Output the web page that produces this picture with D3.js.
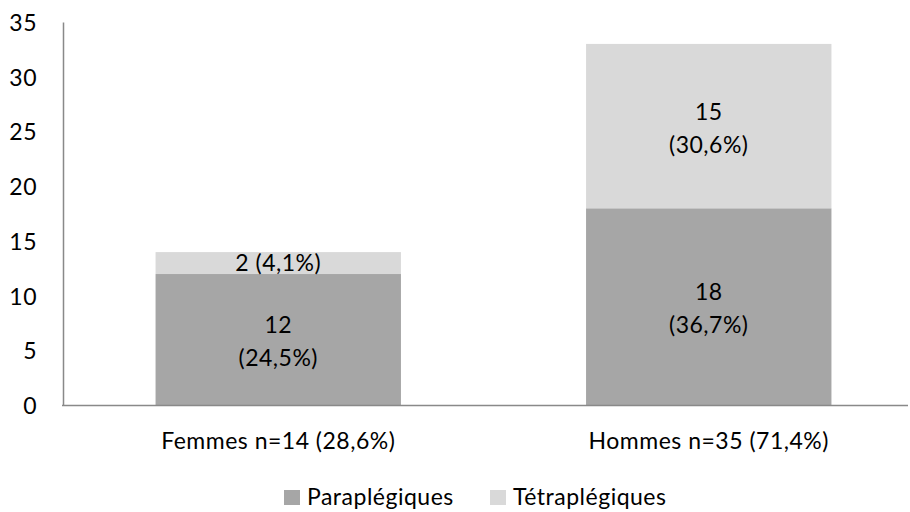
<!DOCTYPE html>
<html><head><meta charset="utf-8">
<script src="https://cdn.jsdelivr.net/npm/d3@7"></script>
<style>body{margin:0;background:#fff}svg{display:block}text{font-family:Lato,"Open Sans",sans-serif;fill:#000;letter-spacing:0.5px}</style>
</head><body><svg id="c" width="910" height="512"></svg>
<script>
const categories = ["Femmes n=14 (28,6%)", "Hommes n=35 (71,4%)"];
const seriesNames = ["Paraplégiques", "Tétraplégiques"];
const paraplegiques = [12, 18];
const tetraplegiques = [2, 15];
const paraLabels = [["12", "(24,5%)"], ["18", "(36,7%)"]];
const tetraLabels = [["2 (4,1%)"], ["15", "(30,6%)"]];
const yTicks = [0, 5, 10, 15, 20, 25, 30, 35];
const colors = ["#a6a6a6", "#d9d9d9"];

const FS = 23;
const svg = d3.select("#c");
const x = d3.scaleBand().domain(categories).range([63, 924]).paddingInner(0.43).paddingOuter(0.215);
const y = d3.scaleLinear().domain([0, 35]).range([405.5, 22]);

const rows = categories.map((c, i) => ({cat: c, Paraplégiques: paraplegiques[i], Tétraplégiques: tetraplegiques[i]}));
const stack = d3.stack().keys(seriesNames)(rows);
const labels = [paraLabels, tetraLabels];

stack.forEach((s, si) => {
  svg.append("g").selectAll("rect").data(s).join("rect")
    .attr("x", d => x(d.data.cat)).attr("width", x.bandwidth())
    .attr("y", d => y(d[1])).attr("height", d => y(d[0]) - y(d[1]))
    .attr("fill", colors[si]);
  s.forEach((d, i) => {
    const lines = labels[si][i];
    const mid = (y(d[0]) + y(d[1])) / 2 + (lines.length > 1 ? 2 : 0);
    const lh = 33;
    const cx = x(d.data.cat) + x.bandwidth() / 2;
    const t = svg.append("text").attr("text-anchor", "middle").attr("font-size", FS);
    lines.forEach((l, k) => {
      t.append("tspan").attr("x", cx)
        .attr("y", mid + (k - (lines.length - 1) / 2) * lh + 8).text(l);
    });
  });
});

// y axis
const ya = svg.append("g").attr("transform", "translate(63,0)")
  .call(d3.axisLeft(y).tickValues(yTicks).tickSize(0).tickPadding(26));
ya.select(".domain").attr("stroke", "#898989").attr("stroke-width", 1.5);
ya.selectAll("text").attr("font-size", FS).attr("font-family", "Lato").attr("fill", "#000").attr("dy", "0.36em");

// x axis
const xa = svg.append("g").attr("transform", "translate(0,405.5)")
  .call(d3.axisBottom(x).tickSize(0).tickPadding(27));
xa.select(".domain").attr("stroke", "#898989").attr("stroke-width", 1.5).attr("d", "M62,0H908");
xa.selectAll("text").attr("font-size", FS).attr("font-family", "Lato").attr("fill", "#000");

// legend
const lg = svg.append("g");
const legX = [284, 490];
seriesNames.forEach((n, i) => {
  lg.append("rect").attr("x", legX[i]).attr("y", 490).attr("width", 16).attr("height", 15).attr("fill", colors[i]);
  lg.append("text").attr("x", legX[i] + 23).attr("y", 505).attr("font-size", FS).text(n);
});
</script></body></html>
